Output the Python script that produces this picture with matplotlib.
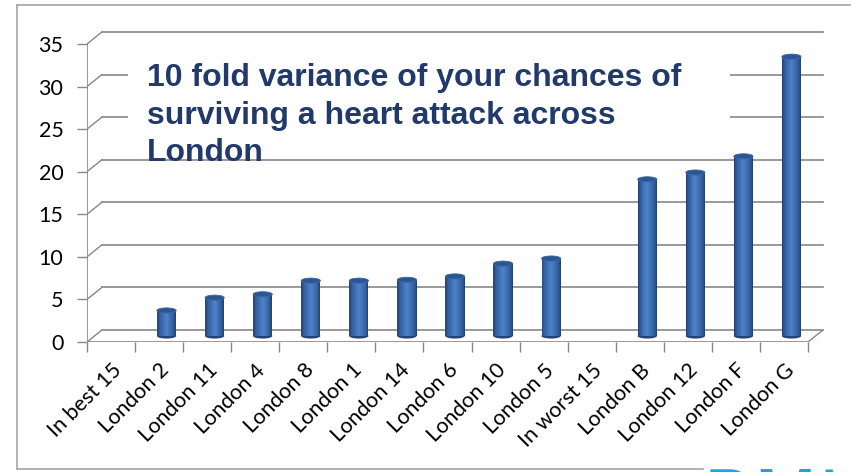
import numpy as np
import matplotlib
matplotlib.use("Agg")
import matplotlib.pyplot as plt
from matplotlib.patches import Ellipse, Rectangle
from matplotlib.lines import Line2D

# categories and values (percent)
categories = ['In best 15', 'London 2', 'London 11', 'London 4', 'London 8',
              'London 1', 'London 14', 'London 6', 'London 10', 'London 5',
              'In worst 15', 'London B', 'London 12', 'London F', 'London G']
values = [np.nan, 3.0, 4.5, 4.9, 6.5, 6.5, 6.6, 7.0, 8.5, 9.1,
          np.nan, 18.4, 19.2, 21.1, 32.8]
y_ticks = [0, 5, 10, 15, 20, 25, 30, 35]

title = "10 fold variance of your chances of\nsurviving a heart attack across\nLondon"

# fake 3D depth offset (data units)
dx, dy = 0.31, 1.41
grid_col = '#878787'
n = len(categories)

fig = plt.figure(figsize=(8.51, 4.72), dpi=100)
ax = fig.add_axes([87 / 851, 1 - 342 / 472, (827.3 - 87) / 851, (342 - 31.2) / 472])
ax.set_xlim(0, n + 0.4)
ax.set_ylim(0, 36.5)
for s in ax.spines.values():
    s.set_visible(False)

# walls: back gridlines + diagonals, front axis
for v in y_ticks:
    ax.plot([dx, n + dx], [v + dy, v + dy], color=grid_col, lw=1.2, zorder=1)
    ax.plot([0, dx], [v, v + dy], color=grid_col, lw=1.0, zorder=1)
ax.plot([0, n], [0, 0], color=grid_col, lw=1.2, zorder=1)
ax.plot([n, n + dx], [0, dy], color=grid_col, lw=1.0, zorder=1)
ax.plot([0, 0], [0, 35], color=grid_col, lw=1.2, zorder=1)

# title box hides part of the gridlines
ax.add_patch(Rectangle((128 / 851, 1 - 142 / 472), (730 - 128) / 851, (142 - 48) / 472,
                       transform=fig.transFigure, facecolor='white', edgecolor='none',
                       zorder=2, clip_on=False))

# cylinders
x = np.arange(n) + 0.5 + dx / 2
vals = np.array(values, dtype=float)
mask = ~np.isnan(vals)
bw = 0.40
base = dy / 2
edge_c = np.array([0x22, 0x44, 0x78]) / 255
mid_c = np.array([0x4a, 0x80, 0xc8]) / 255
for xi, vi in zip(x[mask], vals[mask]):
    ax.add_patch(Ellipse((xi, base), bw, 0.6, facecolor=edge_c, edgecolor='none', zorder=3))
steps = 10
for k in range(steps):
    frac = 1 - k / steps
    t = (k / (steps - 1)) ** 0.7
    col = edge_c * (1 - t) + mid_c * t
    ax.bar(x[mask], vals[mask], width=bw * frac, bottom=base, color=col,
           edgecolor='none', zorder=4 + k * 0.01)
for xi, vi in zip(x[mask], vals[mask]):
    ax.add_patch(Ellipse((xi, base + vi), bw, 0.6, facecolor='#2c5690',
                         edgecolor='#3a68a8', lw=0.6, zorder=5))

# ticks
ax.set_yticks(y_ticks)
ax.set_yticklabels([str(v) for v in y_ticks], fontsize=15.5, family='Lato')
ax.tick_params(axis='y', length=7, width=1, color=grid_col, pad=10)
ax.set_xticks(np.arange(n) + 0.5)
ax.set_xticklabels(categories, rotation=45, ha='right', rotation_mode='anchor',
                   fontsize=15.5, family='Lato')
ax.tick_params(axis='x', which='major', length=0, pad=13)
ax.set_xticks(np.arange(n + 1), minor=True)
ax.tick_params(axis='x', which='minor', length=7, width=1, color=grid_col)

fig.text(147 / 851, 1 - 63 / 472, title, ha='left', va='top', fontsize=23,
         fontweight='bold', family='Liberation Sans', color='#213a6b',
         linespacing=1.33, zorder=6)

# outer frame of the slide picture
frame = '#a6a6a6'
fig.add_artist(Line2D([17 / 851, 1], [1 - 5 / 472, 1 - 5 / 472], color=frame, lw=1.2))
fig.add_artist(Line2D([17 / 851, 17 / 851], [1 - 5 / 472, 1 - 469 / 472], color=frame, lw=1.2))
fig.add_artist(Line2D([17 / 851, 703 / 851], [1 - 469 / 472, 1 - 469 / 472], color=frame, lw=1.2))
# logo peeking in at the bottom edge
fig.text(703 / 851, 1 - 467 / 472, 'BMJ', ha='left', va='top', fontsize=54,
         family='DejaVu Sans', color='#1ba3e3')

fig.savefig('out.png', dpi=100)
